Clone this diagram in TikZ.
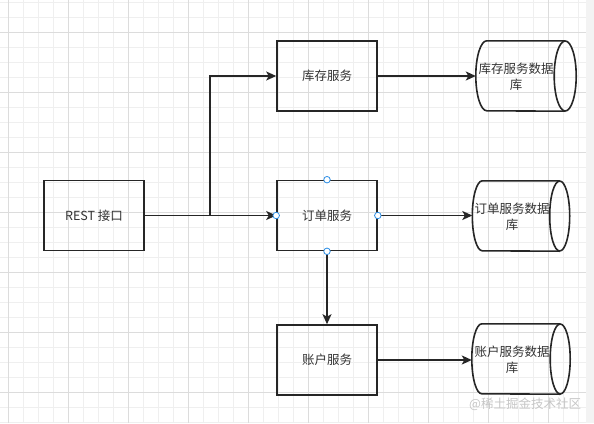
\documentclass[tikz,border=0pt]{standalone}
\usepackage{fontspec}
\setmainfont{Noto Sans CJK SC}
\usetikzlibrary{arrows.meta}
\definecolor{ln}{HTML}{262626}
\definecolor{txt}{HTML}{333333}
\definecolor{minorg}{HTML}{EFEFEF}
\definecolor{majorg}{HTML}{DCDCDC}
\definecolor{hint}{HTML}{2E8FE6}
\definecolor{wm}{HTML}{C6C6C6}
\definecolor{side}{HTML}{F3F3F3}
\newcommand{\dbdraw}[2]{%
  \draw[dbline] ([xshift=-#2pt]#1.north east) -- ([xshift=#2pt]#1.north west)
     arc[start angle=270,end angle=90,x radius=#2,y radius=35]
     -- ([xshift=-#2pt]#1.south east);
  \draw[dbline] ([xshift=-#2pt]#1.east) ellipse[x radius=#2,y radius=35];}
\begin{document}
\begin{tikzpicture}[x=1pt,y=-1pt,
  box/.style={draw=ln,line width=1.6pt,minimum width=100pt,minimum height=70pt,inner sep=0pt,text=txt,font=\fontsize{12.5}{15}\selectfont},
  db/.style={minimum height=70pt,inner sep=0pt},
  dbline/.style={draw=ln,line width=1.6pt},
  lbl/.style={align=center,text=txt,inner sep=0pt,font=\fontsize{12.5}{16}\selectfont},
  conn/.style={draw=ln,line width=1.6pt,-{Stealth[length=10pt,width=9pt,inset=2.5pt]}},
  hintpt/.style={circle,draw=hint,fill=white,line width=0.8pt,minimum size=6.5pt,inner sep=0pt}]
\useasboundingbox (0,0) rectangle (594,423);
\fill[white] (0,0) rectangle (594,423);
% grid
\foreach \x in {8,23,...,586} \draw[minorg,line width=0.8pt] (\x,0) -- (\x,423);
\foreach \y in {2,17,...,423} \draw[minorg,line width=0.8pt] (0,\y) -- (586,\y);
\foreach \x in {8,68,...,586} \draw[majorg,line width=0.8pt] (\x,0) -- (\x,423);
\foreach \y in {32,92,...,423} \draw[majorg,line width=0.8pt] (0,\y) -- (586,\y);
\fill[side] (586,0) rectangle (594,423);
% nodes
\node[box] (rest) at (94,215.5) {REST 接口};
\node[box] (inv) at (327,76) {库存服务};
\node[box] (ord) at (327,215.5) {订单服务};
\node[box] (acc) at (327,360) {账户服务};
\node[db,minimum width=100pt] (db1) at (526,76) {};
\node[db,minimum width=97pt] (db2) at (521,216) {};
\node[db,minimum width=98pt] (db3) at (521,359) {};
\dbdraw{db1}{11}
\dbdraw{db2}{10}
\dbdraw{db3}{10}
\node[lbl] (l1) at (516,76.5) {库存服务数据\\库};
\node[lbl] (l2) at (512,216.5) {订单服务数据\\库};
\node[lbl] (l3) at (512,360) {账户服务数据\\库};
\node[text=wm,font=\fontsize{12.5}{14}\selectfont,anchor=west,inner sep=0pt] (wmk) at (469,404) {@稀土掘金技术社区};
% connectors
\coordinate (j) at (210,215.5);
\draw[conn] (rest.east) -- (ord.west);
\draw[conn] (j) |- (inv.west);
\draw[conn] (inv.east) -- (db1.west);
\draw[conn] (ord.east) -- (db2.west |- ord.east);
\draw[conn] (acc.east) -- (db3.west |- acc.east);
\draw[conn] (ord.south) -- (acc.north);
% hover points
\node[hintpt] at (ord.north) {};
\node[hintpt] at (ord.south) {};
\node[hintpt] at (ord.west) {};
\node[hintpt] at (ord.east) {};
\end{tikzpicture}
\end{document}
